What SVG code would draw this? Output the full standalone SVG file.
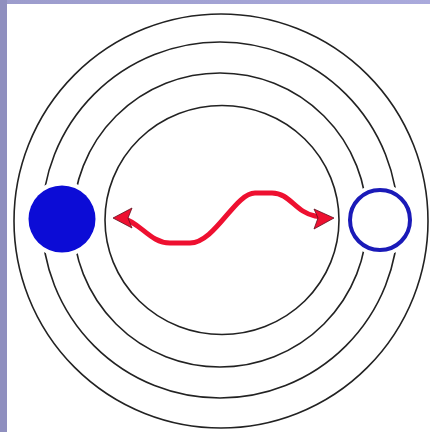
<svg xmlns="http://www.w3.org/2000/svg" width="430" height="432" viewBox="0 0 430 432">
<defs>
<style>
.orbit{fill:none;stroke:#222;stroke-width:1.6}
.wave{fill:none;stroke:#ee1030;stroke-width:5;stroke-linecap:round;stroke-linejoin:round}
.head{fill:#ee1030;stroke:#601020;stroke-width:0.8}
</style>
<linearGradient id="topbar" x1="0" x2="1" y1="0" y2="0">
<stop offset="0" stop-color="#9c9ccc"/>
<stop offset="1" stop-color="#aaaadc"/>
</linearGradient>
</defs>
<rect x="0" y="0" width="430" height="432" fill="#ffffff"/>
<rect x="0" y="0" width="430" height="4" fill="url(#topbar)"/>
<rect x="0" y="0" width="7" height="432" fill="#8f8fbf"/>
<g id="orbits">
<circle class="orbit" cx="221" cy="221" r="207"/>
<circle class="orbit" cx="220" cy="220" r="178"/>
<circle class="orbit" cx="220" cy="220" r="147"/>
<ellipse class="orbit" cx="222" cy="220" rx="117" ry="114.5"/>
</g>
<g id="electron-filled">
<circle cx="62" cy="219" r="38" fill="#ffffff"/>
<circle cx="62" cy="219" r="33.5" fill="#0c0cd6"/>
</g>
<g id="electron-empty">
<circle cx="380" cy="220" r="36" fill="#ffffff"/>
<circle cx="380" cy="220" r="30" fill="#ffffff" stroke="#1a1ab8" stroke-width="4"/>
</g>
<g id="connectors">
<path class="wave" d="M 122 218 C 140 222, 150 243, 170 243 L 190 243 C 215 243, 235 193, 255 193 L 272 193 C 290 193, 295 212, 315 216 L 322 217"/>
<path class="head" d="M 113 218 L 132 208 L 128 218 L 132 228 Z"/>
<path class="head" d="M 334 218 L 314 209 L 318 218 L 314 229 Z"/>
</g>
</svg>
